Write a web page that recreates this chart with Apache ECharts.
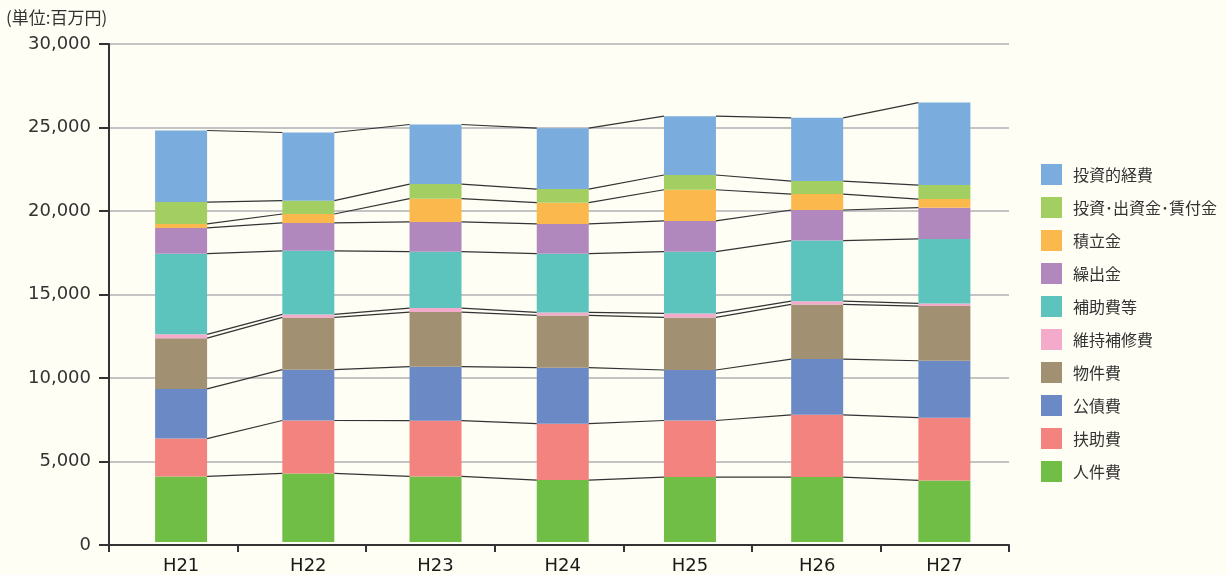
<!DOCTYPE html>
<html lang="ja">
<head>
<meta charset="utf-8">
<title>性質別歳出の推移</title>
<script src="https://cdn.jsdelivr.net/npm/echarts@6/dist/echarts.min.js"></script>
<style>
  html, body { margin: 0; padding: 0; background: #fefef4; }
  #chart { width: 1227px; height: 575px; }
</style>
</head>
<body>
<div id="chart"></div>
<script>
// 年度
const years = ['H21', 'H22', 'H23', 'H24', 'H25', 'H26', 'H27'];

// 性質別歳出（単位：百万円）— 積み上げの下から順
const jinkenhi      = [3950, 4130, 3950, 3730, 3910, 3910, 3710]; // 人件費
const fujohi        = [2280, 3190, 3360, 3400, 3410, 3750, 3780]; // 扶助費
const kosaihi       = [2990, 3060, 3250, 3370, 3040, 3360, 3430]; // 公債費
const bukkenhi      = [3060, 3150, 3290, 3150, 3170, 3290, 3290]; // 物件費
const ijihoshuhi    = [230, 180, 240, 180, 240, 200, 160];        // 維持補修費
const hojohi        = [4860, 3830, 3400, 3540, 3720, 3650, 3890]; // 補助費等
const kuridashikin  = [1550, 1680, 1790, 1790, 1850, 1840, 1880]; // 繰出金
const tsumitatekin  = [240, 540, 1400, 1280, 1880, 960, 520];     // 積立金
const toshiShusshi  = [1320, 800, 880, 820, 890, 780, 840];       // 投資・出資金・賃付金
const toshitekiKeihi= [4310, 4110, 3590, 3670, 3540, 3810, 4970]; // 投資的経費

// y軸目盛
const yTicks = [0, 5000, 10000, 15000, 20000, 25000, 30000];

const seriesDefs = [
  { name: '人件費', data: jinkenhi, color: '#70be45' },
  { name: '扶助費', data: fujohi, color: '#f3837f' },
  { name: '公債費', data: kosaihi, color: '#6b8ac5' },
  { name: '物件費', data: bukkenhi, color: '#a29072' },
  { name: '維持補修費', data: ijihoshuhi, color: '#f4abcb' },
  { name: '補助費等', data: hojohi, color: '#5cc4bc' },
  { name: '繰出金', data: kuridashikin, color: '#b088be' },
  { name: '積立金', data: tsumitatekin, color: '#fbb84c' },
  { name: '投資･出資金･賃付金', data: toshiShusshi, color: '#a3ce62' },
  { name: '投資的経費', data: toshitekiKeihi, color: '#7aaddd' }
];

// 各系列の積み上げ上端（年度ごと）
const stackTops = [];
seriesDefs.forEach(function (s, j) {
  stackTops.push(s.data.map(function (v, i) {
    return v + (j > 0 ? stackTops[j - 1][i] : 0);
  }));
});

const BAR_W = 52;
const numFont = '"DejaVu Sans", sans-serif';
const jpFont = '"Noto Sans CJK JP", "Noto Sans", sans-serif';

const chart = echarts.init(document.getElementById('chart'), null, { renderer: 'canvas' });

const barSeries = seriesDefs.map(function (s) {
  return {
    name: s.name,
    type: 'bar',
    stack: 'total',
    xAxisIndex: 1,
    yAxisIndex: 1,
    barWidth: BAR_W,
    itemStyle: { color: s.color },
    emphasis: { disabled: true },
    data: s.data
  };
});

// 棒の区切り同士を結ぶ線
const connectorSeries = {
  type: 'custom',
  xAxisIndex: 1,
  yAxisIndex: 1,
  z: 5,
  silent: true,
  data: years.slice(0, -1).map(function (_, i) { return [i, 0]; }),
  renderItem: function (params, api) {
    const i = api.value(0);
    const children = stackTops.map(function (tops) {
      const p1 = api.coord([i, tops[i]]);
      const p2 = api.coord([i + 1, tops[i + 1]]);
      return {
        type: 'line',
        shape: { x1: p1[0] + BAR_W / 2, y1: p1[1], x2: p2[0] - BAR_W / 2, y2: p2[1] },
        style: { stroke: '#333', lineWidth: 1.2 }
      };
    });
    return { type: 'group', children: children };
  }
};

chart.setOption({
  backgroundColor: '#fefef4',
  animation: false,
  title: {
    text: '(単位:百万円)',
    left: 6,
    top: 9,
    padding: 0,
    textStyle: { fontSize: 17, fontWeight: 'normal', color: '#333', fontFamily: jpFont }
  },
  legend: {
    orient: 'vertical',
    left: 1036,
    top: 159,
    itemWidth: 21,
    itemHeight: 21,
    itemGap: 12,
    icon: 'rect',
    selectedMode: false,
    data: seriesDefs.map(function (s) { return s.name; }).reverse(),
    textStyle: { fontSize: 16, color: '#333', fontFamily: jpFont, padding: [0, 0, 0, 6] }
  },
  grid: [
    { left: 109, right: 218, top: 44, bottom: 30, containLabel: false },
    { left: 117.5, right: 219, top: 44, bottom: 30, containLabel: false }
  ],
  xAxis: [
    {
      type: 'category',
      gridIndex: 0,
      data: years,
      boundaryGap: true,
      axisLine: { lineStyle: { color: '#333', width: 2 } },
      axisTick: { show: true, length: 7, inside: false, lineStyle: { color: '#333', width: 2 } },
      axisLabel: { show: false }
    },
    {
      type: 'category',
      gridIndex: 1,
      data: years,
      boundaryGap: true,
      axisLine: { show: false },
      axisTick: { show: false },
      axisLabel: { show: true, margin: 15, fontSize: 18, color: '#1a1a1a', fontFamily: numFont }
    }
  ],
  yAxis: [
    {
      type: 'value',
      gridIndex: 0,
      min: yTicks[0],
      max: yTicks[yTicks.length - 1],
      interval: yTicks[1] - yTicks[0],
      axisLine: { show: true, lineStyle: { color: '#333', width: 2 } },
      axisTick: { show: true, length: 10, lineStyle: { color: '#333', width: 2 } },
      axisLabel: {
        margin: 18,
        fontSize: 18,
        color: '#333',
        fontFamily: numFont,
        formatter: function (v) { return v.toLocaleString('en-US'); }
      },
      splitLine: { show: true, lineStyle: { color: '#c4c4c4', width: 2 } }
    },
    {
      type: 'value',
      gridIndex: 1,
      min: yTicks[0],
      max: yTicks[yTicks.length - 1],
      interval: yTicks[1] - yTicks[0],
      show: false,
      splitLine: { show: false }
    }
  ],
  series: barSeries.concat([connectorSeries])
});
</script>
</body>
</html>
